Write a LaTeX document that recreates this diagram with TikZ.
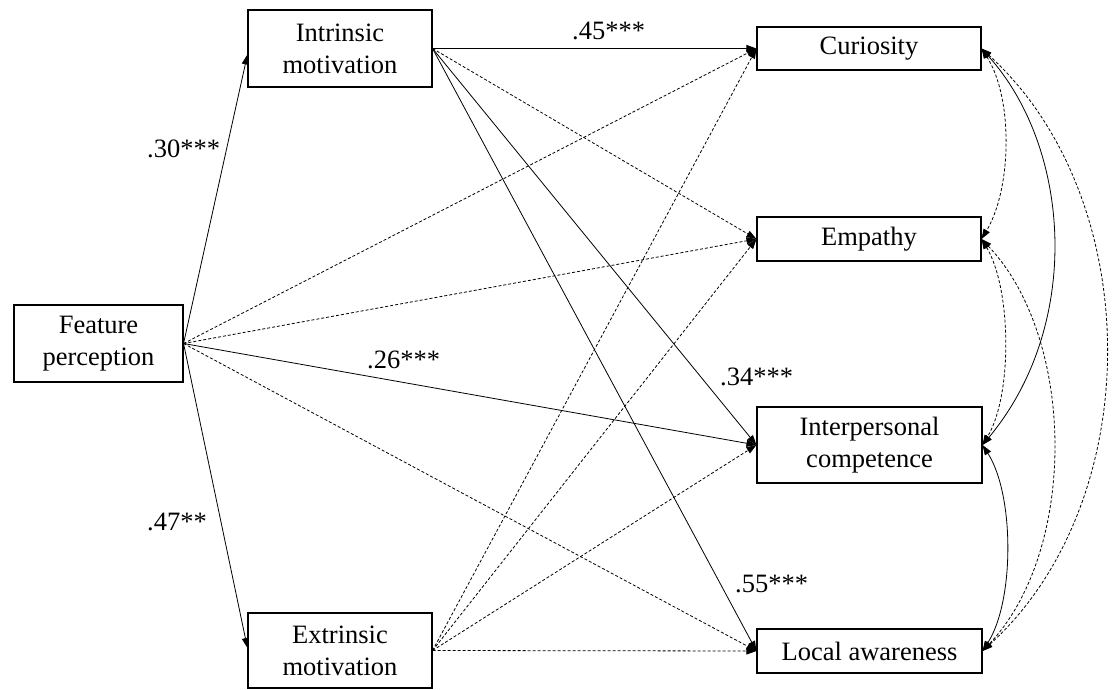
\documentclass[tikz,border=0pt]{standalone}
\usepackage{fontspec}
\setmainfont{Liberation Serif}
\usetikzlibrary{arrows.meta}
\begin{document}
\begin{tikzpicture}[x=1pt,y=-1pt,
  txt/.style={font=\fontsize{26.5}{32}\selectfont},
  box/.style={txt,draw,line width=1.1pt,inner sep=0pt,align=center},
  lbl/.style={txt,inner sep=0pt},
  arr/.style={line width=0.8pt,-{Triangle[length=10pt,width=7pt]}},
  dsh/.style={arr,dash pattern=on 3pt off 2pt},
  cov/.style={line width=0.8pt,{Triangle[length=10pt,width=7pt]}-{Triangle[length=10pt,width=7pt]}},
  dcov/.style={cov,dash pattern=on 3pt off 2pt}]
\useasboundingbox (0,0) rectangle (1112,690);
% boxes
\node[box,minimum width=169pt,minimum height=77pt] (fp) at (98.5,343.5) {Feature\\perception};
\node[box,minimum width=184pt,minimum height=77pt] (intr) at (340,48.5) {Intrinsic\\motivation};
\node[box,minimum width=184pt,minimum height=75pt] (extr) at (340,650.5) {Extrinsic\\motivation};
\node[box,minimum width=224pt,minimum height=43pt] (cur) at (869,48.5) {Curiosity};
\node[box,minimum width=224pt,minimum height=44pt] (emp) at (869,239) {Empathy};
\node[box,minimum width=225pt,minimum height=76pt] (int) at (869.5,445) {Interpersonal\\competence};
\node[box,minimum width=225pt,minimum height=44pt] (loc) at (869.5,651) {Local awareness};
% paths from feature perception
\draw[arr] (fp.east) -- ([yshift=-6pt]intr.west);
\draw[arr] (fp.east) -- ([yshift=2.5pt]extr.west);
\draw[dsh] (fp.east) -- (cur.west);
\draw[dsh] (fp.east) -- (emp.west);
\draw[arr] (fp.east) -- (int.west);
\draw[dsh] (fp.east) -- (loc.west);
% paths from intrinsic motivation
\draw[arr] (intr.east) -- (cur.west);
\draw[dsh] (intr.east) -- (emp.west);
\draw[arr] (intr.east) -- (int.west);
\draw[arr] (intr.east) -- (loc.west);
% paths from extrinsic motivation
\draw[dsh] (extr.east) -- (cur.west);
\draw[dsh] (extr.east) -- (emp.west);
\draw[dsh] (extr.east) -- (int.west);
\draw[dsh] (extr.east) -- (loc.west);
% covariances
\draw[dcov] (cur.east) .. controls +(32,50) and +(30,-50) .. (emp.east);
\draw[cov] (cur.east) .. controls +(90,100) and +(100,-120) .. (int.east);
\draw[dcov] (cur.east) .. controls +(165,150) and +(165,-150) .. (loc.east);
\draw[dcov] (emp.east) .. controls +(30,50) and +(30,-50) .. (int.east);
\draw[dcov] (emp.east) .. controls +(95,100) and +(95,-100) .. (loc.east);
\draw[cov] (int.east) .. controls +(32,50) and +(32,-50) .. (loc.east);
% labels
\node[lbl,anchor=base west] (l45) at (572,40) {.45***};
\node[lbl,anchor=base west] (l30) at (147,158) {.30***};
\node[lbl,anchor=base west] (l47) at (147,530) {.47**};
\node[lbl,anchor=base west] (l26) at (367,368) {.26***};
\node[lbl,anchor=base west] (l34) at (720,385) {.34***};
\node[lbl,anchor=base west] (l55) at (735,592) {.55***};
\end{tikzpicture}
\end{document}
